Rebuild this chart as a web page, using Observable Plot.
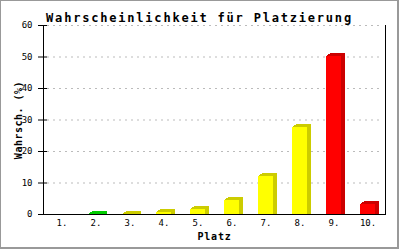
<!DOCTYPE html>
<html><head><meta charset="utf-8">
<script src="https://cdn.jsdelivr.net/npm/d3@7"></script>
<script src="https://cdn.jsdelivr.net/npm/@observablehq/plot@0.6"></script>
<style>
body{margin:0;background:#fff;}
#wrap{position:relative;width:400px;height:250px;}
#border{position:absolute;left:0;top:0;width:396px;height:246px;border-style:solid;border-color:#999;border-width:1px 2px 2px 1px;pointer-events:none;}
</style></head><body>
<div id="wrap"><div id="border"></div></div>
<script>
const places = ["1.","2.","3.","4.","5.","6.","7.","8.","9.","10."];
const probs = [0, 0.1, 0.1, 0.5, 1.6, 4.4, 12.1, 27.5, 50.3, 3.1];
const zones = ["green","green","yellow","yellow","yellow","yellow","yellow","yellow","red","red"];
const frontColors = {green:"#00ff00", yellow:"#ffff00", red:"#ff0000"};
const darkColors = {green:"#00cc00", yellow:"#cccc00", red:"#cc0000"};
const yTicks = [0,10,20,30,40,50,60];
const title = "Wahrscheinlichkeit für Platzierung";
const xLabel = "Platz";
const yLabel = "Wahrsch. (%)";

const data = places.map((p,i)=>({place:p, value:probs[i], zone:zones[i]})).filter(d=>d.value>0);
const depthSteps = [1,2,3,4];
const backs = depthSteps.map(k => Plot.barY(data, {
  x:"place", y:"value", fill: d=>darkColors[d.zone],
  dx:k, dy:-Math.round(0.75*k), insetBottom:-Math.round(0.75*k), shapeRendering:"crispEdges"
}));

const chart = Plot.plot({
  width:400, height:250,
  marginLeft:43, marginRight:15, marginTop:25, marginBottom:36,
  style:{fontFamily:"DejaVu Sans Mono", fontSize:"9px", background:"transparent", color:"#000"},
  x:{domain:places, paddingInner:0.56, paddingOuter:0.28, axis:null},
  y:{domain:[0,60], axis:null},
  color:{type:"identity"},
  marks:[
    Plot.gridY(yTicks, {stroke:"#bbb", strokeOpacity:1, strokeDasharray:"2,4", insetLeft:4, insetRight:3}),
    ...backs,
    Plot.barY(data, {x:"place", y:"value", fill:d=>frontColors[d.zone], shapeRendering:"crispEdges"}),
    Plot.ruleY([0], {stroke:"#000"}),
    Plot.frame({anchor:"left", stroke:"#000"}),
    Plot.frame({anchor:"right", stroke:"#000"}),
    Plot.tickY(yTicks, {y:d=>d, stroke:"#000", insetRight:338}),
    Plot.axisY(yTicks, {tickSize:5, tickPadding:6, fontSize:9, label:null, stroke:"#000"}),
    Plot.axisX({tickSize:0, tickPadding:5, fontSize:9, label:null}),
    Plot.text([title], {frameAnchor:"top", textAnchor:"middle", dy:-12, dx:-15, fontSize:12, fontWeight:"bold"}),
    Plot.text([xLabel], {frameAnchor:"bottom", textAnchor:"middle", dy:25, fontSize:10, fontWeight:"bold"}),
    Plot.text([yLabel], {frameAnchor:"left", textAnchor:"middle", dx:-25, rotate:-90, fontSize:10, fontWeight:"bold"})
  ]
});
const spacing = {[title]:"1.8px", [xLabel]:"0.8px", [yLabel]:"0.5px"};
d3.select(chart).selectAll("text").each(function(){
  const s = spacing[this.textContent];
  if (s) this.style.letterSpacing = s;
});
document.getElementById("wrap").prepend(chart);
</script>
</body></html>
